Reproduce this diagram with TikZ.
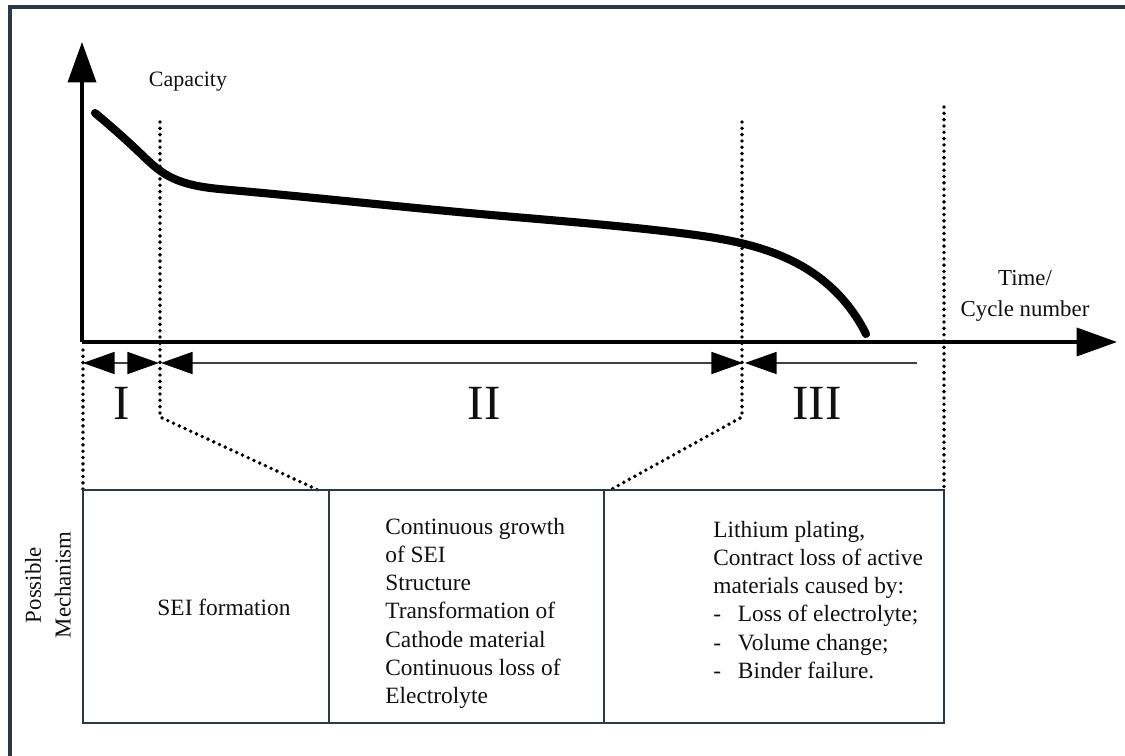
\documentclass[tikz,border=0pt]{standalone}
\usepackage{fontspec}
\setmainfont{Liberation Serif}
\usepackage{tikz}
\usetikzlibrary{arrows.meta}
\usetikzlibrary{calc}
\usetikzlibrary{hobby}
\definecolor{framecol}{HTML}{2B3845}
\definecolor{inkcol}{HTML}{101010}
\tikzset{
    axisarrow/.style={line width=1.9pt,-{Triangle[length=23pt,width=16pt]}},
    stagearrow/.style={line width=1.1pt,draw=black!75},
    stagetip/.tip={Triangle[length=18pt,width=12.5pt,color=black]},
    capcurve/.style={line width=4.6pt,line cap=round},
    dotline/.style={line width=2.2pt,line cap=round,dash pattern=on 0pt off 3.6pt},
    mechbox/.style={draw=framecol,line width=1.5pt},
    mechtext/.style={inner sep=0pt,text=inkcol,font=\fontsize{13.3}{16}\selectfont},
    stagelabel/.style={text=inkcol,font=\fontsize{28}{30}\selectfont}
}
\newcommand{\itemdash}{\makebox[14pt][l]{-}}

\begin{document}
\begin{tikzpicture}[x=0.02cm,y=-0.02cm]
\useasboundingbox (0,0) rectangle (1125,756);
\fill[white] (0,0) rectangle (1125,756);
\draw[framecol,line width=1.8pt] (10,756) -- (10,7) -- (1125,7);

\coordinate (o) at (82,342);
\coordinate (ytip) at (82,42);
\coordinate (xtip) at (1117,342);
\draw[axisarrow] (o) -- (ytip);
\draw[axisarrow] (o) -- (xtip);
\node[mechtext,font=\fontsize{12.5}{15}\selectfont] (cap) at (188,82) {Capacity};
\node[mechtext,align=center,font=\fontsize{13}{17.5}\selectfont] (time) at (1025,296) {Time/\\Cycle number};

\draw[capcurve] (95,113) to [curve through={(140,153) (165,174) (230,190) (480,214) (680,233) (813,273)}] (866,334);

\foreach \x/\bx in {160/318, 742/610}{
    \draw[dotline] (\x,122) -- (\x,417) -- (\bx,490);
}
\draw[dotline] (944,107) -- (944,490);
\draw[dotline] (83,350) -- (83,490);

\foreach \x/\p in {83/a0, 160/a1, 744/a2, 917/a3}{
    \coordinate (\p) at (\x,363);
}
\draw[stagearrow,stagetip-stagetip] (a0) -- ($(a1)+(-1,0)$);
\draw[stagearrow,stagetip-stagetip] ($(a1)+(1,0)$) -- ($(a2)+(-1,0)$);
\draw[stagearrow,stagetip-] ($(a2)+(1,0)$) -- (a3);
\foreach \x/\p/\t in {122/sI/I, 484/sII/II, 817/sIII/III}{
    \node[stagelabel] (\p) at (\x,403) {\t};
}

\foreach \a/\b in {83/329, 329/604, 604/944}{
    \draw[mechbox] (\a,490) rectangle (\b,723);
}
\node[mechtext,rotate=90,align=center,font=\fontsize{13}{17}\selectfont] (pm) at (48,585) {Possible\\Mechanism};
\node[mechtext] (sei) at (224,607) {SEI formation};
\node[mechtext,align=left,anchor=north west] (growth) at (385,518) {Continuous growth\\of SEI\\Structure\\Transformation of\\Cathode material\\Continuous loss of\\Electrolyte};
\node[mechtext,align=left,anchor=north west] (plating) at (713,521) {Lithium plating,\\Contract loss of active\\materials caused by:\\\itemdash Loss of electrolyte;\\\itemdash Volume change;\\\itemdash Binder failure.};
\end{tikzpicture}
\end{document}
